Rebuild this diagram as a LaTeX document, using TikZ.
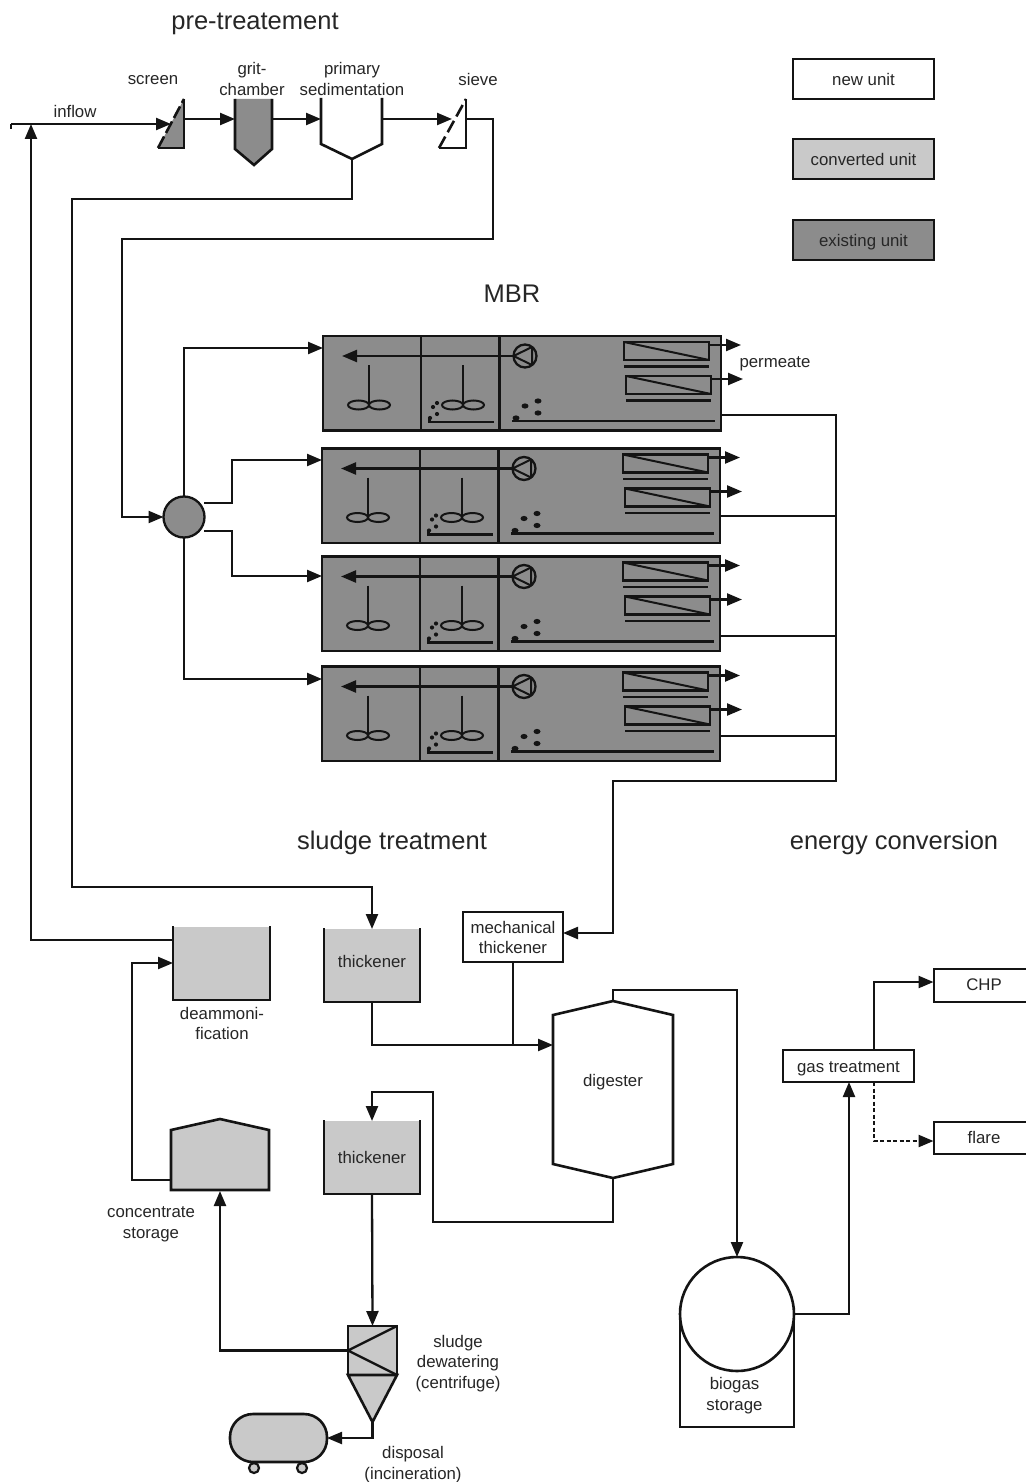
\documentclass[tikz,border=0pt]{standalone}
\usepackage{fontspec}
\setmainfont{Liberation Sans}
\usetikzlibrary{arrows.meta,calc}
\definecolor{exgrey}{gray}{0.55}
\definecolor{congrey}{gray}{0.79}
\definecolor{inkc}{gray}{0.08}
\definecolor{txtc}{gray}{0.15}
\tikzset{
  conn/.style={draw=inkc,line width=2.3pt,line join=miter},
  flow/.style={conn,-{Triangle[length=15pt,width=12pt]}},
  outline/.style={draw=inkc,line width=2.6pt,line join=miter},
  lbl/.style={text=txtc,font=\fontsize{16.8}{20.5}\selectfont,align=center,inner sep=0pt,yshift=-1.5pt},
  head/.style={text=txtc,font=\fontsize{25.5}{30}\selectfont,inner sep=0pt},
  boxn/.style={outline,rectangle,inner sep=0pt,outer sep=0pt,text=txtc,align=center,font=\fontsize{16.8}{20.5}\selectfont,text height=12.5pt,text depth=0pt},
  tankn/.style={boxn,fill=congrey}
}
\newcommand{\mbrunit}[5]{% name, dx, dy, out y relative, width
\begin{scope}[shift={(#2,#3)}]
  \node[boxn,fill=exgrey,minimum width=#5,minimum height=94.5] (#1) at ({323+#5/2},383.2) {};
  \draw[outline] (421,336)--(421,430.5) (499.5,336)--(499.5,430.5);
  \node[draw=inkc,line width=2.3pt,circle,inner sep=0pt,outer sep=0pt,minimum size=23] (#1pump) at (525,356) {};
  \draw[conn,line width=2pt,line join=round] (513.5,356)--(532,347)--(532,365)--cycle;
  \coordinate (#1ret) at (342,356);
  \draw[flow] (#1pump) -- (#1ret);
  % mixers
  \draw[conn,line width=2pt] (369,365)--(369,405) (463,365)--(463,405);
  \draw[conn,line width=2pt] (358.5,405) ellipse (10.5 and 4.5) (379.5,405) ellipse (10.5 and 4.5)
       (452.5,405) ellipse (10.5 and 4.5) (473.5,405) ellipse (10.5 and 4.5);
  % membranes
  \node[boxn,line width=2.3pt,minimum width=85,minimum height=18] (#1ma) at (666.5,351) {};
  \node[boxn,line width=2.3pt,minimum width=85,minimum height=18] (#1mb) at (668.5,385) {};
  \draw[conn,line width=2pt] (#1ma.north west)--(#1ma.south east) (#1mb.north west)--(#1mb.south east);
  \draw[conn] (624,366.5)--(709,366.5) (626,400.5)--(711,400.5);
  \coordinate (#1pa) at (741,345);
  \coordinate (#1pb) at (743,379);
  \draw[flow] (709,345) -- (#1pa);
  \draw[flow] (711,379) -- (#1pb);
  % aeration
  \draw[conn,line width=2.2pt] (429.5,417)--(429.5,422)--(494,422) (512,421)--(715,421);
  \fill[inkc] (437,403) circle (2.1) (433,407) circle (2.1) (437,414) circle (2.1) (430,418) circle (2.1);
  \fill[inkc] (516,418) ellipse (3.5 and 2.6) (525,406) ellipse (3.5 and 2.6) (538,401) ellipse (3.5 and 2.6) (538,413) ellipse (3.5 and 2.6);
  \coordinate (#1out) at (721,#4);
\end{scope}
}
\begin{document}
\begin{tikzpicture}[x=1pt,y=-1pt]
\useasboundingbox (0,0) rectangle (1025,1482);
\fill[white] (0,0) rectangle (1025,1482);

% headings
\node[head] (hpre) at (255,24) {pre-treatement};
\node[head] (hmbr) at (512,293.5) {MBR};
\node[head] (hsl) at (392,843) {sludge treatment};
\node[head] (hen) at (894,843) {energy conversion};

% legend
\node[boxn,minimum width=141,minimum height=40] (lnew) at (863.5,79) {new unit};
\node[boxn,fill=congrey,minimum width=141,minimum height=40] (lcon) at (863.5,159) {converted unit};
\node[boxn,fill=exgrey,minimum width=141,minimum height=40] (lex) at (863.5,240) {existing unit};

% pre-treatment shapes
\fill[exgrey] (158,148)--(184,148)--(184,99)--cycle;
\draw[outline] (158,148)--(184,148)--(184,99);
\draw[outline,dash pattern=on 13pt off 4pt] (158,148)--(184,99);
\draw[outline] (439,148)--(466,148)--(466,99);
\draw[outline,dash pattern=on 13pt off 5pt] (439,148)--(466,99);
\fill[exgrey] (235,99)--(272,99)--(272,149)--(254,165)--(235,149)--cycle;
\draw[outline] (235,99)--(235,149)--(254,165)--(272,149)--(272,99);
\draw[outline] (321,98)--(321,144)--(352,159)--(382,144)--(382,98);

\coordinate (inl) at (11,124);
\coordinate (scrin) at (171,124);
\coordinate (scrout) at (184,119);
\coordinate (gritin) at (235,119);
\coordinate (gritout) at (272,119);
\coordinate (primin) at (321,119);
\coordinate (primout) at (382,119);
\coordinate (sievein) at (452,119);
\coordinate (sieveout) at (466,119);
\coordinate (primbot) at (352,159);
\coordinate (retj) at (31,124);

\draw[conn] (11,129)--(inl);
\draw[flow] (inl) -- (scrin);
\draw[flow] (scrout)--(gritin);
\draw[flow] (gritout)--(primin);
\draw[flow] (primout)--(sievein);

% MBR units
\mbrunit{ua}{0}{0}{415}{398}
\mbrunit{ub}{-1}{112.5}{403.5}{398}
\mbrunit{uc}{-1}{220.5}{415.5}{398}
\mbrunit{ud}{-1}{330.5}{405.5}{398}

% distributor
\node[draw=inkc,line width=2.3pt,fill=exgrey,circle,inner sep=0pt,outer sep=0pt,minimum size=41] (dist) at (184,517) {};
\coordinate (ia) at (ua.west |- 0,348);
\coordinate (ib) at (ub.west |- 0,460);
\coordinate (ic) at (uc.west |- 0,576);
\coordinate (id) at (ud.west |- 0,679);
\coordinate (db) at (204,503);
\coordinate (dc) at (204,531);
\draw[flow] (dist.north) |- (ia);
\draw[flow] (db) -- (232,503) |- (ib);
\draw[flow] (dc) -- (232,531) |- (ic);
\draw[flow] (dist.south) |- (id);

% pre-treatment to MBR
\draw[flow] (sieveout) -- (493,119) -- (493,239) -- (122,239) -- (122,517) -- (dist.west);

% lower tanks
\node[tankn,draw=none,minimum width=97,minimum height=73] (deam) at (221.5,963.5) {};
\draw[outline] (173,926)--(173,1000)--(270,1000)--(270,926);
\node[tankn,draw=none,minimum width=96,minimum height=73] (thka) at (372,965.5) {};
\draw[outline] (324,928)--(324,1002)--(420,1002)--(420,928);
\node[lbl] (thkal) at (372,960) {thickener};
\node[tankn,draw=none,minimum width=96,minimum height=73] (thkb) at (372,1157.5) {};
\draw[outline] (324,1120)--(324,1194)--(420,1194)--(420,1120);
\node[lbl] (thkbl) at (372,1156) {thickener};

\node[boxn,fill=white,minimum width=100,minimum height=50] (mech) at (513,937) {};
\node[lbl] (mechl) at (513,936) {mechanical\\thickener};

% digester
\draw[outline,fill=white] (553,1015)--(613,1001)--(673,1015)--(673,1164)--(613,1178)--(553,1164)--cycle;
\node[lbl] (dig) at (613,1081) {digester};
\coordinate (digtop) at (613,1001);
\coordinate (digbot) at (613,1178);
\coordinate (digin) at (553,1045);

% concentrate storage
\draw[outline,fill=congrey] (171,1130)--(220,1119)--(269,1130)--(269,1190)--(171,1190)--cycle;
\coordinate (consb) at (220,1191);
\coordinate (consl) at (171,1180);

% centrifuge
\node[boxn,fill=congrey,minimum width=49,minimum height=49] (cen) at (372.5,1350.5) {};
\draw[outline,fill=congrey] (348,1375)--(397,1375)--(372.5,1422)--cycle;
\draw[conn] (cen.north east)--(cen.west)--(cen.south east);
\coordinate (cenbot) at (372.5,1422);

% disposal vessel
\node[boxn,fill=congrey,rounded corners=23pt,minimum width=97,minimum height=48] (ves) at (278.5,1438) {};
\node[draw=inkc,line width=2.2pt,fill=congrey,circle,inner sep=0pt,minimum size=10] (wa) at (254,1468) {};
\node[draw=inkc,line width=2.2pt,fill=congrey,circle,inner sep=0pt,minimum size=10] (wb) at (302,1468) {};

% biogas
\draw[outline] (680,1314)--(680,1427)--(794,1427)--(794,1314);
\node[draw=inkc,line width=2.6pt,fill=white,circle,inner sep=0pt,outer sep=0pt,minimum size=114] (gas) at (737,1314) {};
\node[lbl] (gaslb) at (734.5,1394) {biogas\\storage};

% energy boxes
\node[boxn,minimum width=131,minimum height=32] (gast) at (848.5,1066) {gas treatment};
\node[boxn,minimum width=110,minimum height=33] (chp) at (989,985.5) {};
\node[boxn,minimum width=110,minimum height=32] (flare) at (989,1138) {};
\node[lbl] (chpl) at (984,983.5) {CHP};
\node[lbl] (flarel) at (984,1135.5) {flare};

% connectors
\coordinate (deamout) at (173,940);
\coordinate (deamin) at (173,963);
\draw[flow] (deamout) -- (31,940) -- (retj);
\draw[flow] (primbot) -- (352,199) -- (72,199) -- (72,887) -- (372,887) -- (372,929);
\draw[flow] (uaout) -- (836,415) -- (836,781) -- (613,781) -- (613,933) -- (mech.east |- 0,933);
\draw[conn] (ubout) -- (836,516);
\draw[conn] (ucout) -- (836,636);
\draw[conn] (udout) -- (836,736);
\draw[conn] (mech.south) -- (513,1045);
\draw[flow] (thka.south) -- (372,1045) -- (digin);
\draw[flow] (digtop) -- (613,990) -- (737,990) -- (gas.north);
\draw[flow] (gas.east) -- (849,1314) -- (849,1082);
\draw[flow] (874,1050) -- (874,982) -- (933.5,982);
\draw[flow,dash pattern=on 4pt off 2.5pt] (874,1082) -- (874,1141) -- (933.5,1141);
\draw[flow] (digbot) -- (613,1222) -- (433,1222) -- (433,1092) -- (372,1092) -- (372,1121);
\draw[flow] (thkb.south) -- (cen.north);
\draw[flow] (cen.west) -- (220,1350.5) -- (consb);
\draw[flow] (consl) -- (132,1180) -- (132,963) -- (deamin);
\draw[flow] (cenbot) -- (372.5,1438) -- (ves.east);

% labels
\node[lbl] (tinflow) at (75,110) {inflow};
\node[lbl] (tscreen) at (153,79) {screen};
\node[lbl] (tgrit) at (252,77.5) {grit-\\chamber};
\node[lbl] (tprim) at (352,77.5) {primary\\sedimentation};
\node[lbl] (tsieve) at (478,78) {sieve};
\node[lbl] (tperm) at (775,362) {permeate};
\node[lbl] (tdeam) at (222,1022) {deammoni-\\fication};
\node[lbl] (tconc) at (151,1223) {concentrate\\storage};
\node[lbl] (tdew) at (458,1362) {sludge\\dewatering\\(centrifuge)};
\node[lbl] (tdisp) at (413,1463) {disposal\\(incineration)};
\end{tikzpicture}
\end{document}
